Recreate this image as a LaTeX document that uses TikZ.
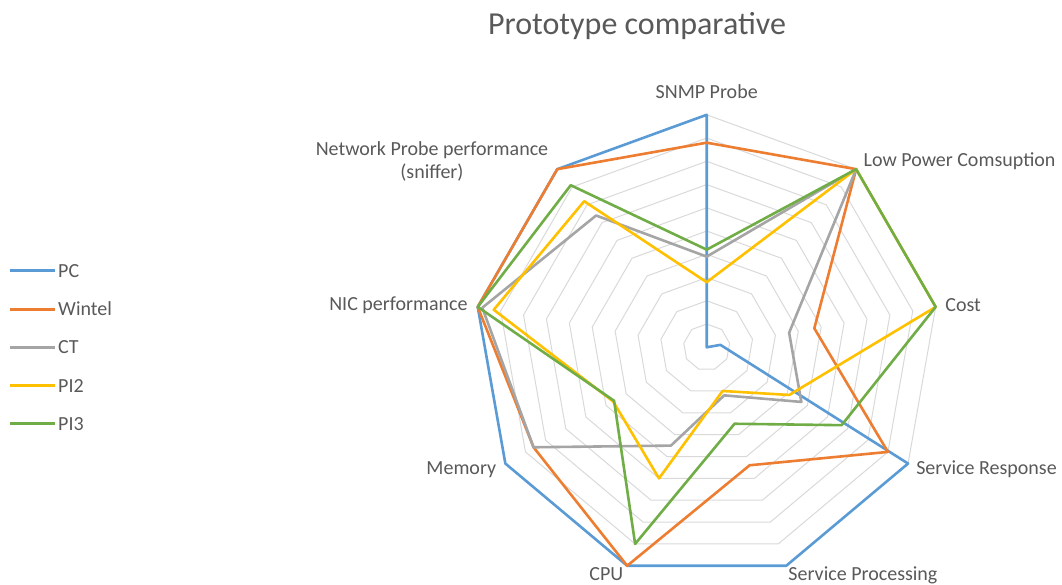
\documentclass[tikz,border=0pt]{standalone}
\usepackage{fontspec}
\setmainfont{Carlito}
\usepackage{tikz}

\definecolor{pcblue}{HTML}{5B9BD5}
\definecolor{wintelorange}{HTML}{ED7D31}
\definecolor{ctgray}{HTML}{A5A5A5}
\definecolor{pitwoyellow}{HTML}{FFC000}
\definecolor{pithreegreen}{HTML}{70AD47}
\definecolor{gridgray}{HTML}{D9D9D9}
\definecolor{labelgray}{HTML}{595959}

\tikzset{
  radarline/.style={draw=#1, line width=2.6pt, line join=round},
  ringline/.style={draw=gridgray, line width=1pt},
  axislabel/.style={text=labelgray, font=\fontsize{20}{23}\selectfont, inner sep=0pt},
  keylabel/.style={axislabel, anchor=west, text height=12.9pt, text depth=0pt},
}

\begin{document}
\begin{tikzpicture}[x=1pt,y=1pt]
	\useasboundingbox (0,0) rectangle (1062,585);
	\node[axislabel, font=\fontsize{32}{38}\selectfont, anchor=base] (title) at (637,550.7) {Prototype comparative};
	\begin{scope}[shift={(706.7,237.7)}, x=23.25pt, y=23.25pt]
	\foreach \r in {1,...,10}
		\draw[ringline] (90:\r) -- (50:\r) -- (10:\r) -- (-30:\r) -- (-70:\r) -- (-110:\r) -- (-150:\r) -- (170:\r) -- (130:\r) -- cycle;
	\coordinate (snmp) at (90:10);
	\coordinate (power) at (50:10);
	\coordinate (cost) at (10:10);
	\coordinate (resp) at (-30:10);
	\coordinate (proc) at (-70:10);
	\coordinate (cpu) at (-110:10);
	\coordinate (mem) at (-150:10);
	\coordinate (nic) at (170:10);
	\coordinate (sniff) at (130:10);
	\draw[radarline=pcblue] (90:10) -- (50:0) -- (10:0.6) -- (-30:10) -- (-70:10) -- (-110:10) -- (-150:10) -- (170:10) -- (130:10) -- cycle;
	\draw[radarline=wintelorange] (90:8.8) -- (50:10) -- (10:4.7) -- (-30:9) -- (-70:5.4) -- (-110:10) -- (-150:8.6) -- (170:10) -- (130:10) -- cycle;
	\draw[radarline=ctgray] (90:3.9) -- (50:10) -- (10:3.6) -- (-30:4.7) -- (-70:2.2) -- (-110:4.5) -- (-150:8.6) -- (170:9.8) -- (130:7.4) -- cycle;
	\draw[radarline=pitwoyellow] (90:2.8) -- (50:10) -- (10:10) -- (-30:4.1) -- (-70:2) -- (-110:6) -- (-150:4.65) -- (170:9.3) -- (130:8.2) -- cycle;
	\draw[radarline=pithreegreen] (90:4.2) -- (50:10) -- (10:10) -- (-30:6.7) -- (-70:3.5) -- (-110:9) -- (-150:4.6) -- (170:10) -- (130:9.1) -- cycle;
	\end{scope}
	\node[axislabel, anchor=base] (snmplabel) at ([yshift=16.4pt]snmp) {SNMP Probe};
	\node[axislabel, anchor=base west] (powerlabel) at ([xshift=7.3pt,yshift=3pt]power) {Low Power Comsuption};
	\node[axislabel, anchor=base west] (costlabel) at ([xshift=9.5pt,yshift=-5pt]cost) {Cost};
	\node[axislabel, anchor=base west] (resplabel) at ([xshift=8pt,yshift=-11pt]resp) {Service Response};
	\node[axislabel, anchor=base west] (proclabel) at ([xshift=2pt,yshift=-14.3pt]proc) {Service Processing};
	\node[axislabel, anchor=base east] (cpulabel) at ([xshift=-3.7pt,yshift=-14.3pt]cpu) {CPU};
	\node[axislabel, anchor=base east] (memlabel) at ([xshift=-9pt,yshift=-10.7pt]mem) {Memory};
	\node[axislabel, anchor=base east] (niclabel) at ([xshift=-10pt,yshift=-4pt]nic) {NIC performance};
	\node[axislabel, anchor=base, align=center] (snifflabel) at ([xshift=-125.3pt,yshift=-9pt]sniff) {Network Probe performance\\(sniffer)};
	% legend
	\node[keylabel] (keypc) at (58,314.3) {PC};
	\node[keylabel] (keywintel) at (58,275.7) {Wintel};
	\node[keylabel] (keyct) at (58,237.7) {CT};
	\node[keylabel] (keypitwo) at (58,199.3) {PI2};
	\node[keylabel] (keypithree) at (58,161.3) {PI3};
	\draw[radarline=pcblue] ([xshift=-48pt]keypc.west) -- ([xshift=-3pt]keypc.west);
	\draw[radarline=wintelorange] ([xshift=-48pt]keywintel.west) -- ([xshift=-3pt]keywintel.west);
	\draw[radarline=ctgray] ([xshift=-48pt]keyct.west) -- ([xshift=-3pt]keyct.west);
	\draw[radarline=pitwoyellow] ([xshift=-48pt]keypitwo.west) -- ([xshift=-3pt]keypitwo.west);
	\draw[radarline=pithreegreen] ([xshift=-48pt]keypithree.west) -- ([xshift=-3pt]keypithree.west);
\end{tikzpicture}
\end{document}
